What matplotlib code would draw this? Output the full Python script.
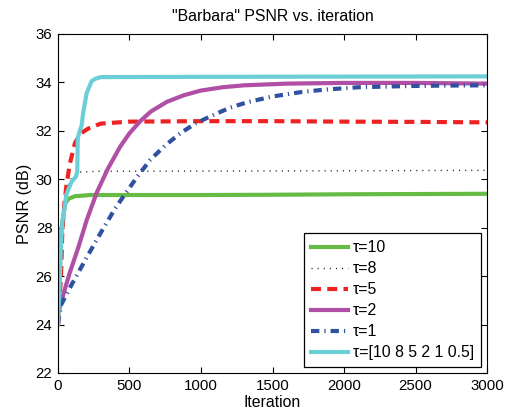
import matplotlib
matplotlib.use("Agg")
import matplotlib.pyplot as plt

plt.rcParams['font.family'] = ['Liberation Sans', 'DejaVu Sans']
plt.rcParams['font.size'] = 11

# tau = 10 (green)
it_t10 = [0, 10, 25, 50, 75, 120, 225, 600, 1000, 1500, 2000, 2500, 3000]
psnr_t10 = [24.0, 26.0, 28.0, 29.0, 29.2, 29.3, 29.35, 29.35, 29.35, 29.36, 29.38, 29.39, 29.4]

# tau = 8 (black dotted)
it_t8 = [0, 20, 50, 100, 150, 300, 1000, 2000, 3000]
psnr_t8 = [24.0, 27.0, 29.5, 30.1, 30.3, 30.33, 30.34, 30.35, 30.37]

# tau = 5 (red dashed)
it_t5 = [0, 10, 21, 30, 45, 61, 84, 119, 160, 213, 300, 500, 1000, 1500, 2000, 2500, 3000]
psnr_t5 = [24.0, 25.0, 26.0, 27.8, 29.0, 29.84, 30.67, 31.5, 31.9, 32.1, 32.3, 32.38, 32.4, 32.4, 32.38, 32.37, 32.35]

# tau = 2 (purple)
it_t2 = [0, 20, 80, 143, 200, 271, 350, 435, 500, 575, 650, 762, 880, 996, 1150, 1300, 1600, 2000, 2500, 3000]
psnr_t2 = [24.4, 24.9, 26.1, 27.2, 28.3, 29.45, 30.45, 31.35, 31.9, 32.4, 32.8, 33.2, 33.47, 33.66, 33.8, 33.88, 33.95, 33.98, 33.98, 33.95]

# tau = 1 (blue dash-dot)
it_t1 = [0, 20, 100, 213, 300, 400, 482, 560, 645, 750, 855, 960, 1066, 1200, 1323, 1500, 1700, 1860, 2100, 2445, 2700, 3000]
psnr_t1 = [24.0, 24.8, 25.7, 26.9, 27.8, 28.8, 29.5, 30.15, 30.8, 31.4, 31.9, 32.3, 32.6, 32.95, 33.18, 33.42, 33.6, 33.7, 33.8, 33.85, 33.87, 33.88]

# tau = [10 8 5 2 1 0.5] (cyan)
it_ts = [0, 10, 20, 30, 60, 95, 125, 135, 138, 155, 165, 175, 200, 235, 260, 300, 1000, 2000, 3000]
psnr_ts = [24.0, 25.5, 27.2, 28.2, 29.4, 29.9, 30.1, 30.3, 31.7, 32.05, 32.2, 32.7, 33.55, 34.05, 34.15, 34.22, 34.23, 34.24, 34.25]

labels = ['τ=10', 'τ=8', 'τ=5', 'τ=2', 'τ=1', 'τ=[10 8 5 2 1 0.5]']
x_ticks = [0, 500, 1000, 1500, 2000, 2500, 3000]
y_ticks = [22, 24, 26, 28, 30, 32, 34, 36]

fig = plt.figure(figsize=(5.06, 4.12), dpi=100)
ax = fig.add_axes([0.1146, 0.0947, 0.9625 - 0.1146, 0.9175 - 0.0947])

ax.plot(it_t10, psnr_t10, color='#66BB44', lw=3, label=labels[0])
ax.plot(it_t8, psnr_t8, color='#222222', lw=1.0, linestyle=(0, (0.8, 3.6)), label=labels[1])
ax.plot(it_t5, psnr_t5, color='#EE2222', lw=3, linestyle=(0, (2.4, 1.5)), label=labels[2])
ax.plot(it_t2, psnr_t2, color='#B04FA5', lw=3, label=labels[3])
ax.plot(it_t1, psnr_t1, color='#3050A0', lw=3, linestyle=(0, (2.0, 1.2, 0.3, 1.2)), label=labels[4])
ax.plot(it_ts, psnr_ts, color='#6CCFD8', lw=3, label=labels[5])

ax.set_xlim(0, 3000)
ax.set_ylim(22, 36)
ax.set_xticks(x_ticks)
ax.set_yticks(y_ticks)
ax.tick_params(direction='in', top=True, right=True, length=4, width=0.8, labelsize=10.8, pad=4)
for s in ax.spines.values():
    s.set_linewidth(0.8)

ax.set_title('"Barbara" PSNR vs. iteration', fontsize=11.4, pad=9)
ax.set_xlabel('Iteration', fontsize=11.4, labelpad=2)
ax.set_ylabel('PSNR (dB)', fontsize=11.6, labelpad=3)

leg = ax.legend(loc='lower right', fancybox=False, edgecolor='black', framealpha=1,
                handlelength=2.3, handletextpad=0.35, labelspacing=0.38,
                borderaxespad=0.35, fontsize=11.4, borderpad=0.45)
leg.get_frame().set_linewidth(0.9)

fig.savefig('out.png', dpi=100)
